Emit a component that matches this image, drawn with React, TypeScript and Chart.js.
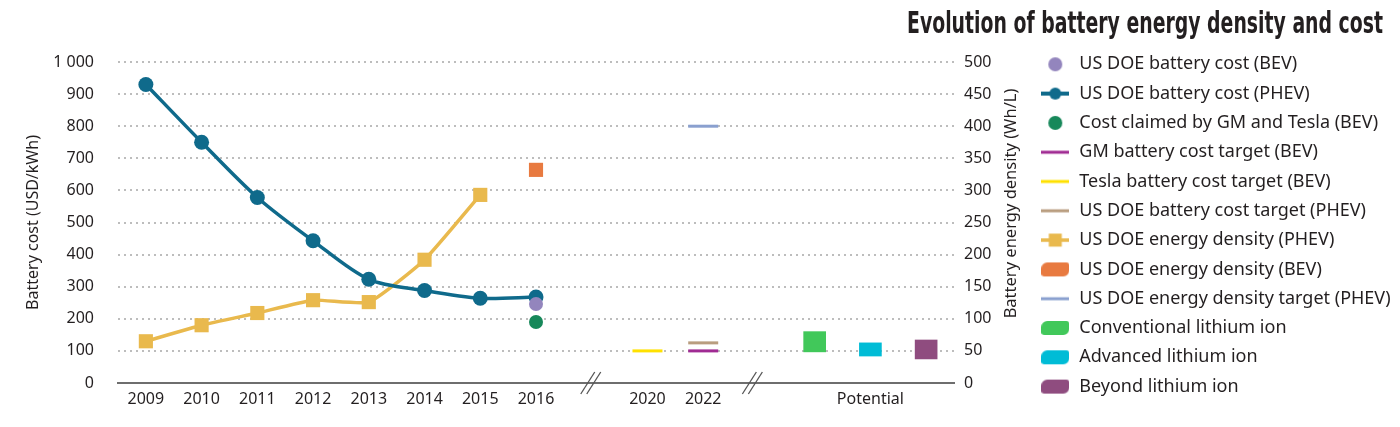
import React, { useEffect, useRef } from 'react';
import { Chart, registerables } from 'chart.js';

Chart.register(...registerables);

const categories = ['2009', '2010', '2011', '2012', '2013', '2014', '2015', '2016', '', '2020', '2022', '', '', 'Potential', ''];

const costBevDoe = [null, null, null, null, null, null, null, 246, null, null, null, null, null, null, null];
const costPhevDoe = [930, 750, 578, 443, 323, 288, 264, 268, null, null, null, null, null, null, null];
const costClaimed = [null, null, null, null, null, null, null, 190, null, null, null, null, null, null, null];
const gmTarget = [null, null, null, null, null, null, null, null, null, null, 100, null, null, null, null];
const teslaTarget = [null, null, null, null, null, null, null, null, null, 100, null, null, null, null, null];
const doeCostTarget = [null, null, null, null, null, null, null, null, null, null, 125, null, null, null, null];
const densityPhev = [65, 90, 109, 129, 126, 192, 293, null, null, null, null, null, null, null, null];
const densityBev = [null, null, null, null, null, null, null, 332, null, null, null, null, null, null, null];
const densityTarget = [null, null, null, null, null, null, null, null, null, null, 400, null, null, null, null];
const conventional = [null, null, null, null, null, null, null, null, null, null, null, null, [97, 160], null, null];
const advanced = [null, null, null, null, null, null, null, null, null, null, null, null, null, [84, 125], null];
const beyond = [null, null, null, null, null, null, null, null, null, null, null, null, null, null, [75, 134]];

const costMax = 1000;
const costStep = 100;
const densityMax = 500;
const densityStep = 50;

const TITLE = 'Evolution of battery energy density and cost';
const LEFT_TITLE = 'Battery cost (USD/kWh)';
const RIGHT_TITLE = 'Battery energy density (Wh/L)';

const FONT = '"Noto Sans", "Open Sans", sans-serif';
const TEXT = '#231f20';

const C = {
  bev: '#9385bd',
  phev: '#0f6a8b',
  claimed: '#17885a',
  gm: '#a02b93',
  tesla: '#ffe100',
  doeTarget: '#b99d7f',
  densPhev: '#e9b94d',
  densBev: '#e87a40',
  densTarget: '#8aa0cf',
  conv: '#41c85a',
  adv: '#00bcd6',
  beyond: '#8f4c7f',
};

function marker(kind: string, color: string): HTMLCanvasElement {
  const c = document.createElement('canvas');
  c.width = 28;
  c.height = 16;
  const g = c.getContext('2d')!;
  g.fillStyle = color;
  g.strokeStyle = color;
  if (kind === 'dot') {
    g.beginPath();
    g.arc(14, 8, 7, 0, Math.PI * 2);
    g.fill();
  } else if (kind === 'lineDot') {
    g.lineWidth = 4;
    g.beginPath();
    g.moveTo(0, 8);
    g.lineTo(28, 8);
    g.stroke();
    g.beginPath();
    g.arc(14, 8, 6, 0, Math.PI * 2);
    g.fill();
  } else if (kind === 'line') {
    g.lineWidth = 3;
    g.beginPath();
    g.moveTo(0, 8);
    g.lineTo(28, 8);
    g.stroke();
  } else if (kind === 'lineSquare') {
    g.lineWidth = 3.5;
    g.beginPath();
    g.moveTo(0, 8);
    g.lineTo(28, 8);
    g.stroke();
    g.fillRect(7.5, 1.5, 13, 13);
  } else if (kind === 'block') {
    g.beginPath();
    (g as any).roundRect(0, 1, 28, 14, [6, 3, 6, 3]);
    g.fill();
  }
  return c;
}

const LEGEND_WIDTH = 371;

const legendWidthPlugin = {
  id: 'legendWidth',
  beforeLayout(chart: any) {
    const lg = chart.legend;
    if (lg && !lg.__fixed) {
      const orig = lg.fit;
      lg.fit = function () {
        orig.call(this);
        this.width = LEGEND_WIDTH;
      };
      lg.__fixed = true;
    }
  },
};

const decorPlugin = {
  id: 'decor',
  afterDraw(chart: any) {
    const ctx = chart.ctx as CanvasRenderingContext2D;
    const { chartArea } = chart;
    // main title
    ctx.save();
    ctx.font = 'bold 30px "DejaVu Sans Condensed", "Liberation Sans Narrow", "DejaVu Sans", sans-serif';
    const w = ctx.measureText(TITLE).width;
    ctx.translate(1383, 33);
    ctx.scale(476 / w, 1);
    ctx.textAlign = 'right';
    ctx.textBaseline = 'alphabetic';
    ctx.fillStyle = TEXT;
    ctx.fillText(TITLE, 0, 0);
    ctx.restore();
    // right axis title, reading bottom to top
    const y1 = chart.scales.y1;
    ctx.save();
    ctx.font = '16.5px ' + FONT;
    ctx.fillStyle = TEXT;
    ctx.translate(y1.left + 57, (chartArea.top + chartArea.bottom) / 2 - 19);
    ctx.rotate(-Math.PI / 2);
    ctx.textAlign = 'center';
    ctx.textBaseline = 'middle';
    ctx.fillText(RIGHT_TITLE, 0, 0);
    ctx.restore();
    // axis breaks
    const x = chart.scales.x;
    const yb = chartArea.bottom;
    ctx.save();
    ctx.strokeStyle = '#555';
    ctx.lineWidth = 1.3;
    [8, 10.9].forEach((i) => {
      const cx = x.getPixelForValue(i) - 1;
      [-3, 3].forEach((o) => {
        ctx.beginPath();
        ctx.moveTo(cx + o - 7, yb + 11);
        ctx.lineTo(cx + o + 7, yb - 11);
        ctx.stroke();
      });
    });
    ctx.restore();
  },
};

const fmt = (v: number) => String(v).replace(/\B(?=(\d{3})+(?!\d))/g, ' ');

export default function App() {
  const ref = useRef<HTMLCanvasElement | null>(null);
  useEffect(() => {
    if (!ref.current) return;
    const kinds: [string, string][] = [
      ['dot', C.bev],
      ['lineDot', C.phev],
      ['dot', C.claimed],
      ['line', C.gm],
      ['line', C.tesla],
      ['line', C.doeTarget],
      ['lineSquare', C.densPhev],
      ['block', C.densBev],
      ['line', C.densTarget],
      ['block', C.conv],
      ['block', C.adv],
      ['block', C.beyond],
    ];
    const markers = kinds.map(([k, c]) => marker(k, c));
    const dot = (label: string, data: any[], color: string, axis = 'y') => ({
      type: 'line', label, data, yAxisID: axis, showLine: false,
      pointRadius: 7, pointBackgroundColor: color, pointBorderWidth: 0, borderColor: color,
    });
    const tick = (label: string, data: any[], color: string, axis = 'y') => ({
      type: 'line', label, data, yAxisID: axis, showLine: false,
      pointStyle: 'line', pointRadius: 15, pointBorderWidth: 3, pointBorderColor: color, borderColor: color,
    });
    const bar = (label: string, data: any[], color: string) => ({
      type: 'bar', label, data, yAxisID: 'y', backgroundColor: color, borderWidth: 0,
      barThickness: 22, grouped: false,
    });
    const chart = new Chart(ref.current, {
      type: 'line',
      data: {
        labels: categories,
        datasets: [
          dot('US DOE battery cost (BEV)', costBevDoe, C.bev),
          {
            type: 'line', label: 'US DOE battery cost (PHEV)', data: costPhevDoe, yAxisID: 'y',
            borderColor: C.phev, borderWidth: 3.5, tension: 0.3, pointRadius: 7.5,
            pointBackgroundColor: C.phev, pointBorderWidth: 0,
          },
          dot('Cost claimed by GM and Tesla (BEV)', costClaimed, C.claimed),
          tick('GM battery cost target (BEV)', gmTarget, C.gm),
          tick('Tesla battery cost target (BEV)', teslaTarget, C.tesla),
          tick('US DOE battery cost target (PHEV)', doeCostTarget, C.doeTarget),
          {
            type: 'line', label: 'US DOE energy density (PHEV)', data: densityPhev, yAxisID: 'y1',
            borderColor: C.densPhev, borderWidth: 3.5, tension: 0.15, pointStyle: 'rect', pointRadius: 10,
            pointBackgroundColor: C.densPhev, pointBorderWidth: 0,
          },
          {
            type: 'line', label: 'US DOE energy density (BEV)', data: densityBev, yAxisID: 'y1', showLine: false,
            pointStyle: 'rect', pointRadius: 10, pointBackgroundColor: C.densBev, pointBorderWidth: 0, borderColor: C.densBev,
          },
          tick('US DOE energy density target (PHEV)', densityTarget, C.densTarget, 'y1'),
          bar('Conventional lithium ion', conventional, C.conv),
          bar('Advanced lithium ion', advanced, C.adv),
          bar('Beyond lithium ion', beyond, C.beyond),
        ] as any,
      },
      options: {
        responsive: false,
        animation: false,
        events: [],
        layout: { padding: { top: 44, left: 0, right: 0, bottom: 0 } },
        plugins: {
          tooltip: { enabled: false },
          legend: {
            position: 'right',
            align: 'start',
            labels: {
              usePointStyle: true,
              pointStyleWidth: 30,
              padding: 11.3,
              color: TEXT,
              font: { family: FONT, size: 18 },
              generateLabels: (ch: any) =>
                ch.data.datasets.map((ds: any, i: number) => ({
                  text: ds.label,
                  pointStyle: markers[i],
                  fillStyle: 'transparent',
                  strokeStyle: 'transparent',
                  lineWidth: 0,
                  hidden: false,
                  datasetIndex: i,
                  fontColor: TEXT,
                })),
            },
          },
        },
        scales: {
          x: {
            type: 'category',
            position: 'bottom',
            offset: true,
            grid: { display: true, color: 'transparent', drawTicks: false, drawOnChartArea: false },
            border: { display: true, color: '#6e6e6e', width: 2 },
            ticks: { color: TEXT, font: { family: FONT, size: 16 }, padding: 7, autoSkip: false, maxRotation: 0 },
            afterFit: (s: any) => { s.height = 44; },
          },
          xt: {
            type: 'category',
            position: 'top',
            display: true,
            grid: { display: false, drawTicks: false },
            border: { display: false },
            ticks: { display: false },
            afterFit: (s: any) => { s.height = 18; },
          },
          y: {
            position: 'left',
            min: 0,
            max: costMax,
            ticks: { stepSize: costStep, color: TEXT, font: { family: FONT, size: 16 }, padding: 24, callback: (v: any) => fmt(Number(v)) },
            grid: {
              color: (c: any) => (c.tick && c.tick.value === 0 ? 'transparent' : '#bdbdbd'),
              lineWidth: 2,
              drawTicks: false,
            },
            border: { display: false, dash: [2, 4] },
            title: { display: true, text: LEFT_TITLE, color: TEXT, font: { family: FONT, size: 16 }, padding: { top: 24, bottom: 0 } },
            afterFit: (s: any) => { s.width = 118; },
          },
          y1: {
            position: 'right',
            min: 0,
            max: densityMax,
            ticks: { stepSize: densityStep, color: TEXT, font: { family: FONT, size: 16 }, padding: 10 },
            grid: { display: false, drawTicks: false },
            border: { display: false },
            afterFit: (s: any) => { s.width = 75; },
          },
        },
      } as any,
      plugins: [legendWidthPlugin, decorPlugin],
    });
    return () => chart.destroy();
  }, []);
  return (
    <div style={{ position: 'absolute', left: 0, top: 0, width: 1400, height: 427, background: '#fff' }}>
      <canvas ref={ref} width={1400} height={427} style={{ display: 'block' }} />
    </div>
  );
}
